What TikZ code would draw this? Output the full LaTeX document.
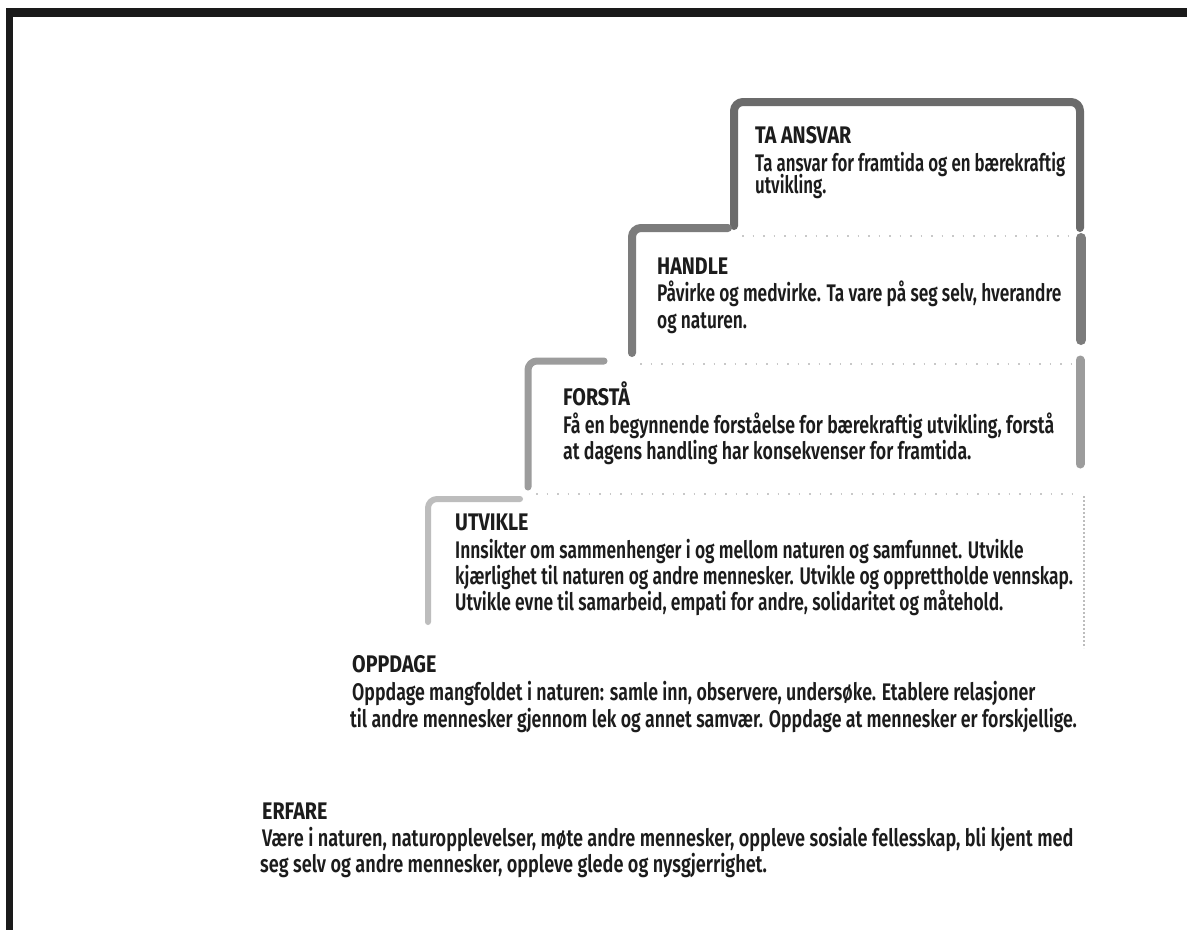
\documentclass[tikz,border=0pt]{standalone}
\usepackage{graphicx}
\usepackage{fontspec}
\setmainfont{Fira Sans}[UprightFont=* SemiBold, BoldFont=* Bold, FakeStretch=0.74, BoldFeatures={FakeStretch=0.82}]
\definecolor{framec}{HTML}{1A1A1A}
\definecolor{b1}{HTML}{6B6B6B}
\definecolor{b2}{HTML}{7C7C7C}
\definecolor{b3}{HTML}{9C9C9C}
\definecolor{b4}{HTML}{BDBDBD}
\definecolor{speck}{HTML}{C8C8C8}
\definecolor{txt}{HTML}{1C1C1C}
\newcommand{\sqz}[2]{\scalebox{#1}[1]{#2}}
\begin{document}
\begin{tikzpicture}[x=1pt,y=-1pt,
  head/.style={anchor=base west, inner sep=0pt, text=txt, font=\bfseries\fontsize{24}{28}\selectfont},
  body/.style={anchor=base west, inner sep=0pt, text=txt, font=\fontsize{24}{28}\selectfont},
  edge/.style={line width=#1, line cap=round, line join=round, rounded corners=9pt},
  speckle/.style={speck, line width=1.2pt, dash pattern=on 1.5pt off 9pt}]
\useasboundingbox (0,0) rectangle (1187,930);
\fill[white] (0,0) rectangle (1187,930);
% scan frame
\fill[framec] (6,8) rectangle (1187,17);
\fill[framec] (6,8) rectangle (13,930);
% box edges
\draw[edge=8pt, b1] (734,226) -- (734,102) -- (1080,102) -- (1080,228);
\draw[edge=8pt, b2] (632,353) -- (632,228) -- (728,228);
\draw[b2, line width=10pt, line cap=round] (1081,238) -- (1081,340);
\draw[edge=7pt, b3] (528,487) -- (528,361) -- (604,361);
\draw[b3, line width=9pt, line cap=round] (1080,360) -- (1080,464);
\draw[edge=6pt, b4] (428,622) -- (428,499) -- (520,499);
\draw[b4, line width=2pt, dash pattern=on 2pt off 2pt] (1084,496) -- (1084,648);
% faint lower edges
\draw[speckle] (742,236) -- (1072,236);
\draw[speckle] (640,364) -- (1072,364);
\draw[speckle] (536,494) -- (1072,494);
% TA ANSVAR
\node[head] (ta-h) at (755,143) {TA ANSVAR};
\node[body] (ta-1) at (755,171) {\sqz{0.95}{Ta ansvar for framtida og en bærekraftig}};
\node[body] (ta-2) at (755,193) {\sqz{0.95}{utvikling.}};
% HANDLE
\node[head] (ha-h) at (657,274) {HANDLE};
\node[body] (ha-1) at (657,301) {\sqz{0.975}{Påvirke og medvirke. Ta vare på seg selv, hverandre}};
\node[body] (ha-2) at (657,328) {\sqz{0.975}{og naturen.}};
% FORSTÅ
\node[head] (fo-h) at (563,405) {FORSTÅ};
\node[body] (fo-1) at (563,433) {Få en begynnende forståelse for bærekraftig utvikling, forstå};
\node[body] (fo-2) at (563,459) {at dagens handling har konsekvenser for framtida.};
% UTVIKLE
\node[head] (ut-h) at (455,530) {UTVIKLE};
\node[body] (ut-1) at (455,558) {\sqz{0.98}{Innsikter om sammenhenger i og mellom naturen og samfunnet. Utvikle}};
\node[body] (ut-2) at (455,584) {\sqz{0.98}{kjærlighet til naturen og andre mennesker. Utvikle og opprettholde vennskap.}};
\node[body] (ut-3) at (455,610) {\sqz{0.98}{Utvikle evne til samarbeid, empati for andre, solidaritet og måtehold.}};
% OPPDAGE
\node[head] (op-h) at (352,672) {OPPDAGE};
\node[body] (op-1) at (352,700) {Oppdage mangfoldet i naturen: samle inn, observere, undersøke. Etablere relasjoner};
\node[body] (op-2) at (350,727) {til andre mennesker gjennom lek og annet samvær. Oppdage at mennesker er forskjellige.};
% ERFARE
\node[head] (er-h) at (262,819) {ERFARE};
\node[body] (er-1) at (262,846) {\sqz{1.02}{Være i naturen, naturopplevelser, møte andre mennesker, oppleve sosiale fellesskap, bli kjent med}};
\node[body] (er-2) at (260,872) {\sqz{1.02}{seg selv og andre mennesker, oppleve glede og nysgjerrighet.}};
\end{tikzpicture}
\end{document}
